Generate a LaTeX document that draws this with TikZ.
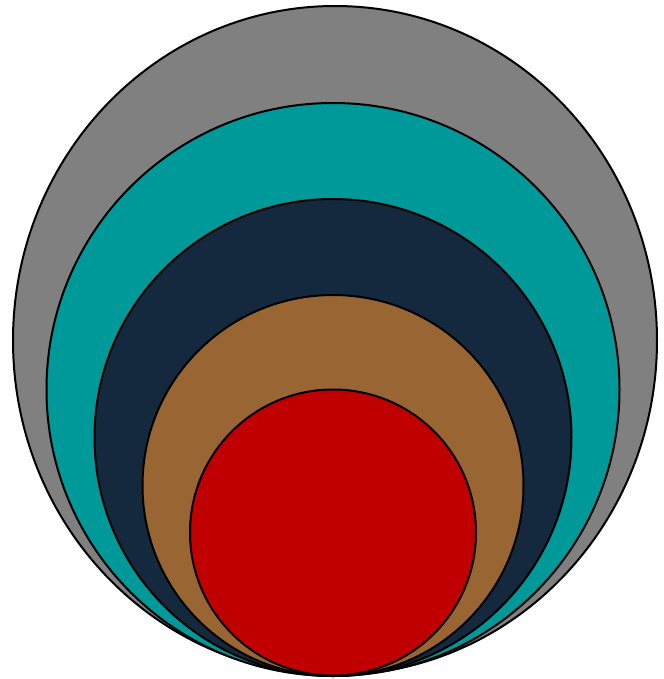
\documentclass[tikz,border=0pt]{standalone}
\usepackage{tikz}

\definecolor{ringgray}{HTML}{808080}
\definecolor{ringteal}{HTML}{009999}
\definecolor{ringnavy}{HTML}{14293D}
\definecolor{ringbrown}{HTML}{996633}
\definecolor{ringred}{HTML}{C00000}

\begin{document}
\begin{tikzpicture}[x=0.75pt,y=-0.75pt,ring/.style={draw=black,line width=1.5pt}]
    \useasboundingbox (0,0) rectangle (664,679);
    % outer ring is a bit taller than wide
    \draw[ring,fill=ringgray] (335,340.5) ellipse [x radius=322*0.75pt, y radius=334.5*0.75pt];
    \draw[ring,fill=ringteal] (333,389.5) circle [radius=286.5*0.75pt];
    \draw[ring,fill=ringnavy] (333,437.5) circle [radius=238.5*0.75pt];
    \draw[ring,fill=ringbrown] (333,485.5) circle [radius=190.5*0.75pt];
    \draw[ring,fill=ringred] (333,532.5) circle [radius=143*0.75pt];
\end{tikzpicture}
\end{document}
